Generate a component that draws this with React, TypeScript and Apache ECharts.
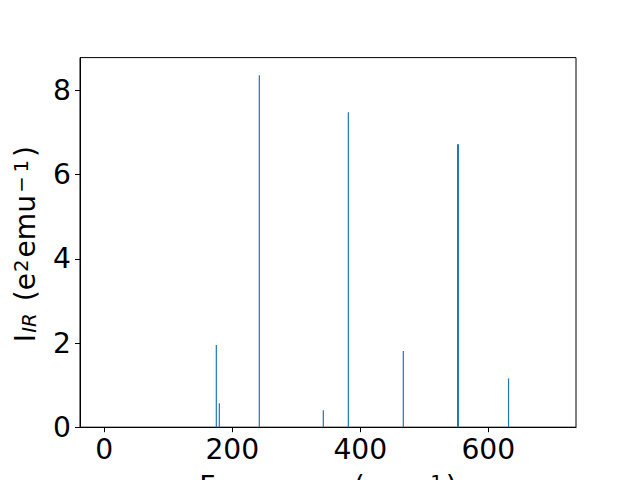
import React, { useEffect, useRef } from "react";
import * as echarts from "echarts";

const freqs = [175.0, 179.7, 242.2, 342.2, 381.3, 467.2, 552.0, 553.2, 631.6];
const intensities = [1.95, 0.57, 8.36, 0.4, 7.48, 1.81, 6.72, 6.72, 1.16];
const xTicks = [0, 200, 400, 600];
const yTicks = [0, 2, 4, 6, 8];

const FONT = "DejaVu Sans";
const FS = 28.2;
const SUB = 19.7;

export default function App() {
  const ref = useRef<HTMLDivElement>(null);
  useEffect(() => {
    if (!ref.current) return;
    const chart = echarts.init(ref.current, undefined, { renderer: "svg" });
    const rich = {
      m: { fontSize: FS, fontFamily: FONT, lineHeight: 28, fill: "#000" },
      s: {
        fontSize: SUB,
        fontFamily: FONT,
        fontStyle: "italic",
        lineHeight: 10,
        verticalAlign: "bottom",
        padding: [0, 3, 0, 1],
        fill: "#000",
      },
      p: { fontSize: SUB, fontFamily: FONT, lineHeight: 10, verticalAlign: "top", padding: [0, 2, 0, 1], fill: "#000" },
      q: { fontSize: SUB, fontFamily: FONT, lineHeight: 10, verticalAlign: "top", padding: [0, 3, 0, 2], fill: "#000" },
    };
    chart.setOption({
      animation: false,
      backgroundColor: "#fff",
      grid: {
        left: 80,
        right: 64,
        top: 57.6,
        bottom: 52.8,
        show: true,
        borderColor: "#000",
        borderWidth: 1,
        backgroundColor: "transparent",
        containLabel: false,
        outerBoundsMode: "none",
      },
      xAxis: {
        type: "value",
        min: -38,
        max: 737,
        axisLine: { show: true, onZero: false, lineStyle: { color: "#000", width: 1 } },
        axisTick: { show: true, customValues: xTicks, length: 5, lineStyle: { color: "#000", width: 1 } },
        axisLabel: { customValues: xTicks, fontSize: FS, fontFamily: FONT, color: "#000", margin: 8 },
        splitLine: { show: false },
      },
      yAxis: {
        type: "value",
        min: 0,
        max: 8.78,
        axisLine: { show: true, onZero: false, lineStyle: { color: "#000", width: 1 } },
        axisTick: { show: true, customValues: yTicks, length: 5, lineStyle: { color: "#000", width: 1 } },
        axisLabel: { customValues: yTicks, fontSize: FS, fontFamily: FONT, color: "#000", margin: 9 },
        splitLine: { show: false },
      },
      series: [
        {
          type: "bar",
          data: freqs.map((f, i) => [f, intensities[i]]),
          barWidth: 1.2,
          itemStyle: { color: "#1f77b4" },
        },
      ],
      graphic: [
        {
          type: "text",
          x: 25,
          y: 244,
          rotation: Math.PI / 2,
          style: {
            text: "{m|I}{s|IR}{m| (e}{p|2}{m|emu}{q|−\u20091}{m|)}",
            align: "center",
            verticalAlign: "middle",
            fill: "#000",
            rich,
          },
        },
        {
          type: "text",
          x: 328,
          y: 486,
          style: {
            text: "{m|Frequency (cm}{q|−\u20091}{m|)}",
            align: "center",
            verticalAlign: "middle",
            fill: "#000",
            rich,
          },
        },
      ],
    });
    return () => chart.dispose();
  }, []);
  return (
    <div
      ref={ref}
      style={{ position: "fixed", left: 0, top: 0, width: 640, height: 480, background: "#fff" }}
    />
  );
}
